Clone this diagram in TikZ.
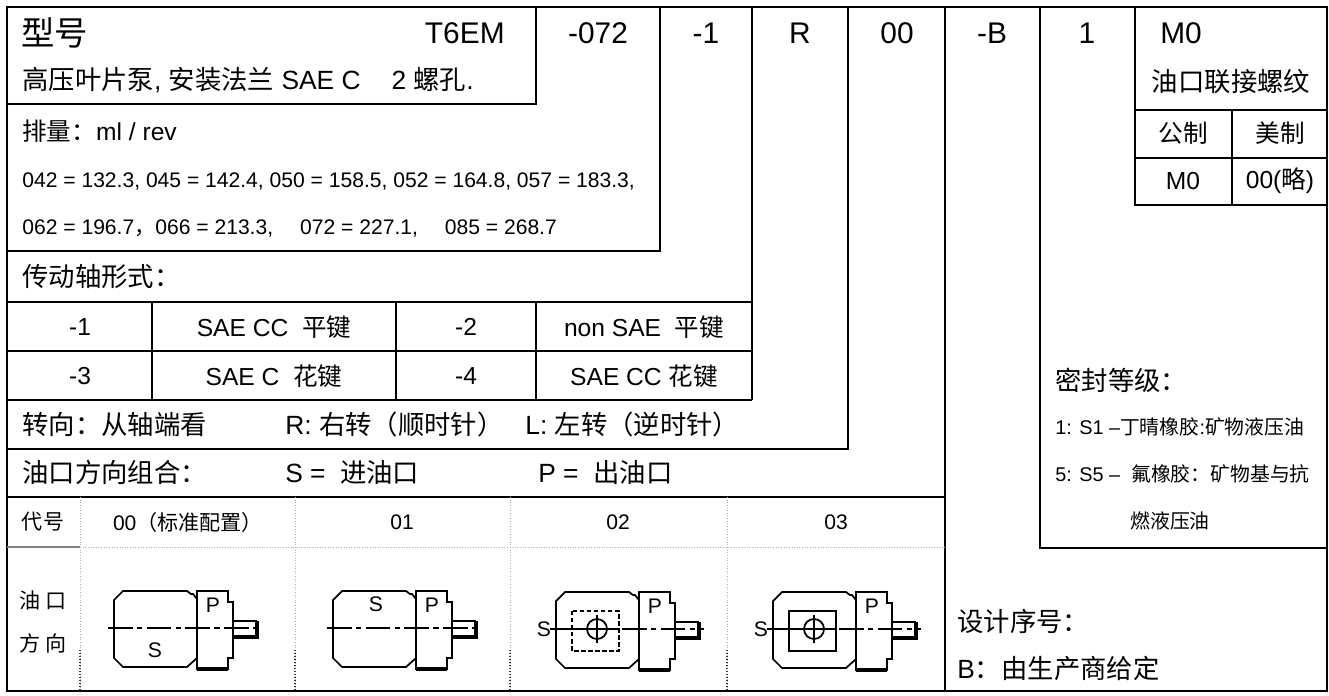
\documentclass[tikz,border=0pt]{standalone}
\usepackage{fontspec}
\usepackage{tikz}
\setmainfont{Liberation Sans}
\newfontfamily\cjk{Noto Sans CJK SC}
\newcommand{\zh}[1]{{\cjk #1}}
\newcommand{\fs}[1]{\fontsize{#1}{#1}\selectfont}

% one pump outline, origin at the body's left edge on the centre line
\newcommand{\pumpbody}{%
  \draw[pumpline] (0,-28) -- (9,-37) -- (73,-37) -- (77,-34) -- (79,-34) -- (83,-29) -- (83,30) -- (73,39) -- (9,39) -- (0,30) -- cycle;
  \draw[pumpline] (83,-37) -- (114,-37) -- (114,-26) -- (119,-26) -- (119,30) -- (114,30) -- (114,41) -- (83,41) -- cycle;
  \draw[line width=1.8pt] (83,41) -- (114,41);
  \draw[pumpline] (119,-7) -- (143,-7);
  \draw[line width=1.8pt] (119,9) -- (143,9) -- (143,-7);
}

\begin{document}
\begin{tikzpicture}[x=0.02cm, y=-0.02cm]
    \tikzstyle{rule} = [line width=1.1pt]
    \tikzstyle{grid} = [gray!60, line width=0.5pt, densely dotted]
    \tikzstyle{darkgrid} = [black!80, line width=0.7pt, densely dotted]
    \tikzstyle{head} = [font=\fs{17}, inner sep=0pt]
    \tikzstyle{lbl} = [font=\fs{15}, inner sep=0pt, anchor=west]
    \tikzstyle{small} = [font=\fs{12}, inner sep=0pt, anchor=west]
    \tikzstyle{cell} = [font=\fs{14}, inner sep=0pt]
    \tikzstyle{tab} = [font=\fs{12}, inner sep=0pt]
    \tikzstyle{seal} = [font=\fs{11.3}, inner sep=0pt, anchor=west]
    \tikzstyle{pumpline} = [line width=1pt, line join=miter]
    \tikzstyle{centerline} = [line width=1pt, dash pattern=on 14pt off 2.5pt on 3pt off 2.5pt]
    \tikzstyle{letter} = [font=\fs{12}, inner sep=0pt]

    \useasboundingbox [fill=white] (0,0) rectangle (1329,696);

    % Outer frame and the code columns
    \draw[rule] (7,7) rectangle (1327,691);
    \draw[rule] (536,7) -- (536,104) -- (7,104);
    \draw[rule] (660,7) -- (660,251) -- (7,251);
    \draw[rule] (752,7) -- (752,400);
    \draw[rule] (848,7) -- (848,449) -- (7,449);
    \draw[rule] (945,7) -- (945,691);
    \draw[rule] (1040,7) -- (1040,548) -- (1327,548);
    \draw[rule] (1135,7) -- (1135,205) -- (1327,205);

    % Port thread sub-table
    \draw[rule] (1135,110) -- (1327,110);
    \draw[rule] (1135,158) -- (1327,158);
    \draw[rule] (1232,110) -- (1232,205);

    % Shaft table
    \draw[rule] (7,302) -- (752,302);
    \draw[rule] (7,351) -- (752,351);
    \draw[rule] (7,400) -- (752,400);
    \foreach \x in {152,396,536}
        \draw[rule] (\x,302) -- (\x,400);

    % Port direction table
    \draw[rule] (7,497) -- (945,497);
    \draw[gray, line width=0.6pt] (7,547) -- (80,547);
    \draw[grid] (80,547) -- (945,547);
    \foreach \x in {80,295,510,727} {
        \draw[grid] (\x,497) -- (\x,691);
        \draw[darkgrid] (\x,650) -- (\x,691);
    }

    % Header codes
    \node[head, font=\fs{19}, anchor=west] (xinghao) at (21,33) {\zh{型号}};
    \node[head, anchor=east] (series) at (505,33) {T6EM};
    \node[head] (size) at (598,33) {-072};
    \node[head] (shaft) at (706,33) {-1};
    \node[head] (rot) at (800,33) {R};
    \node[head] (port) at (897,33) {00};
    \node[head] (design) at (992,33) {-B};
    \node[head] (seal) at (1087,33) {1};
    \node[head, anchor=west] (thread) at (1160,33) {M0};

    % Pump type and displacement
    \node[lbl] (pumptype) at (22,80) {\zh{高压叶片泵}, \zh{安装法兰} SAE C\hspace{0.9em} 2 \zh{螺孔}.};
    \node[lbl, font=\fs{14}] (disp) at (22,131) {\zh{排量：}ml / rev};
    \node[small] (displistA) at (22,181) {042 = 132.3, 045 = 142.4, 050 = 158.5, 052 = 164.8, 057 = 183.3,};
    \node[small] (displistB) at (22,228) {062 = 196.7\zh{，}066 = 213.3,\hspace{1em} 072 = 227.1,\hspace{1em} 085 = 268.7};

    % Shaft
    \node[lbl] (shafttitle) at (22,277) {\zh{传动轴形式：}};
    \node[cell] (shaftA) at (80,327) {-1};
    \node[cell] (shaftAtext) at (274,327) {SAE CC\ \ \zh{平键}};
    \node[cell] (shaftB) at (466,327) {-2};
    \node[cell] (shaftBtext) at (644,327) {non SAE\ \ \zh{平键}};
    \node[cell] (shaftC) at (80,376) {-3};
    \node[cell] (shaftCtext) at (274,376) {SAE C\ \ \zh{花键}};
    \node[cell] (shaftD) at (466,376) {-4};
    \node[cell] (shaftDtext) at (644,376) {SAE CC \zh{花键}};

    % Rotation
    \node[lbl] (rottitle) at (22,424) {\zh{转向：从轴端看}};
    \node[lbl] (rotright) at (285,424) {R: \zh{右转（顺时针）}};
    \node[lbl] (rotleft) at (525,424) {L: \zh{左转（逆时针）}};

    % Port direction
    \node[lbl] (porttitle) at (22,472) {\zh{油口方向组合：}};
    \node[lbl] (portS) at (285,472) {S =\ \ \zh{进油口}};
    \node[lbl] (portP) at (538,472) {P =\ \ \zh{出油口}};
    \node[tab] (code) at (43,522) {\zh{代号}};
    \node[tab] (codeA) at (188,522) {00\zh{（标准配置）}};
    \node[tab] (codeB) at (402,522) {01};
    \node[tab] (codeC) at (618,522) {02};
    \node[tab] (codeD) at (836,522) {03};
    \node[tab] (dirA) at (43,600) {\zh{油\hspace{3pt}口}};
    \node[tab] (dirB) at (43,643) {\zh{方\hspace{3pt}向}};

    % Pump 00
    \begin{scope}[shift={(114,628)}]
        \pumpbody
        \draw[centerline] (-6,0) -- (148,0);
        \node[letter] (pA) at (99,-23) {P};
        \node[letter] (sA) at (41,22) {S};
    \end{scope}

    % Pump 01
    \begin{scope}[shift={(333,628)}]
        \pumpbody
        \draw[centerline] (-6,0) -- (148,0);
        \node[letter] (pB) at (99,-23) {P};
        \node[letter] (sB) at (43,-24) {S};
    \end{scope}

    % Pump 02
    \begin{scope}[shift={(556,629)}]
        \pumpbody
        \draw[pumpline, dash pattern=on 2.5pt off 1.5pt] (16,-18) rectangle (63,22);
        \draw[pumpline] (41,0) circle (10);
        \draw[pumpline] (41,-14) -- (41,14);
        \draw[pumpline] (-6,0) -- (63,0);
        \draw[centerline] (66,0) -- (148,0);
        \node[letter] (pC) at (99,-23) {P};
        \node[letter] (sC) at (-12,0) {S};
    \end{scope}

    % Pump 03
    \begin{scope}[shift={(773,629)}]
        \pumpbody
        \draw[pumpline] (16,-18) rectangle (63,22);
        \draw[pumpline] (41,0) circle (10);
        \draw[pumpline] (41,-14) -- (41,14);
        \draw[pumpline] (-6,0) -- (63,0);
        \draw[centerline] (66,0) -- (148,0);
        \node[letter] (pD) at (99,-23) {P};
        \node[letter] (sD) at (-12,0) {S};
    \end{scope}

    % Port thread
    \node[lbl, anchor=center] (threadtitle) at (1231,82) {\zh{油口联接螺纹}};
    \node[cell] (metric) at (1183,133) {\zh{公制}};
    \node[cell] (imperial) at (1280,133) {\zh{美制}};
    \node[cell] (metricM) at (1183,181) {M0};
    \node[cell] (imperialM) at (1280,181) {00(\zh{略})};

    % Seals
    \node[lbl] (sealtitle) at (1055,380) {\zh{密封等级：}};
    \node[seal] (sealA) at (1055,427) {1: S1 –\zh{丁晴橡胶}:\zh{矿物液压油}};
    \node[seal] (sealB) at (1055,474) {5: S5 –\ \ \zh{氟橡胶：矿物基与抗}};
    \node[seal, anchor=center] (sealC) at (1170,521) {\zh{燃液压油}};

    % Design number
    \node[lbl] (designtitle) at (957,621) {\zh{设计序号：}};
    \node[lbl] (designB) at (957,668) {B\zh{：由生产商给定}};
\end{tikzpicture}
\end{document}
